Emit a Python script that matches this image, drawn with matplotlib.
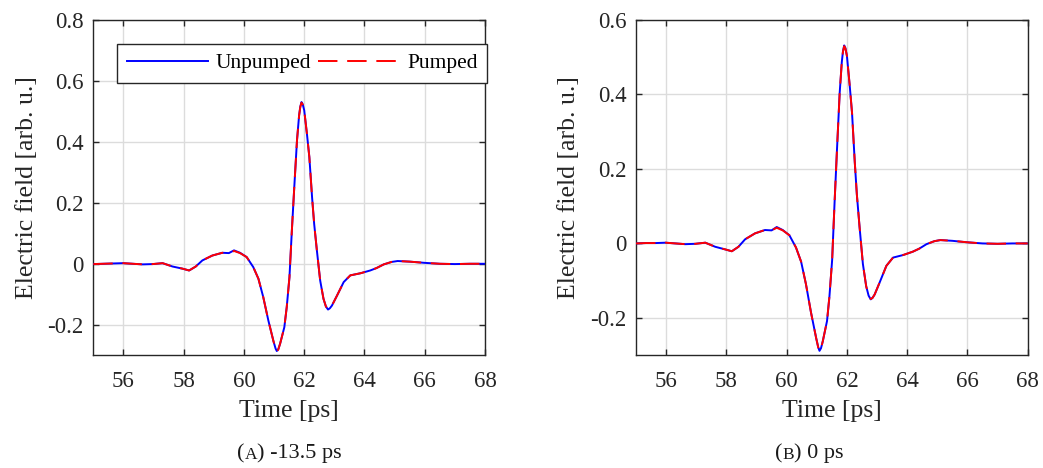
import matplotlib
matplotlib.use("Agg")
import matplotlib.pyplot as plt
from matplotlib.text import Annotation

plt.rcParams['font.family'] = ['Liberation Serif', 'DejaVu Serif']
plt.rcParams['axes.unicode_minus'] = False

# ---- data ----
time_ps = [55.0, 55.33, 55.65, 55.98, 56.31, 56.64, 56.97, 57.3, 57.63, 57.96,
           58.18, 58.4, 58.62, 58.95, 59.28, 59.5, 59.67, 59.87, 60.09, 60.31,
           60.48, 60.64, 60.81, 60.98, 61.05, 61.09, 61.14, 61.2, 61.34, 61.42,
           61.51, 61.59, 61.67, 61.76, 61.83, 61.87, 61.91, 61.95, 62.0, 62.09,
           62.17, 62.26, 62.33, 62.42, 62.53, 62.64, 62.72, 62.79, 62.85, 62.92,
           63.09, 63.31, 63.53, 63.87, 64.19, 64.4, 64.64, 64.9, 65.1, 65.5,
           66.0, 66.5, 67.0, 67.5, 68.0]

unpumped_a = [-0.001, 0.0, 0.001, 0.002, 0.0, -0.002, -0.001, 0.002, -0.009, -0.016,
              -0.022, -0.009, 0.011, 0.027, 0.036, 0.035, 0.044, 0.036, 0.022, -0.011,
              -0.049, -0.109, -0.186, -0.254, -0.278, -0.286, -0.280, -0.262, -0.208, -0.142,
              -0.044, 0.109, 0.251, 0.404, 0.486, 0.515, 0.530, 0.523, 0.503, 0.426,
              0.350, 0.219, 0.131, 0.044, -0.055, -0.115, -0.140, -0.150, -0.146, -0.137,
              -0.104, -0.060, -0.038, -0.031, -0.022, -0.014, -0.002, 0.006, 0.009, 0.007,
              0.003, 0.0, -0.001, 0.0, 0.0]

pumped_a = [-0.001, 0.0, 0.001, 0.002, 0.0, -0.002, -0.001, 0.002, -0.009, -0.016,
            -0.022, -0.009, 0.011, 0.027, 0.036, 0.035, 0.042, 0.035, 0.022, -0.011,
            -0.049, -0.109, -0.186, -0.254, -0.279, -0.288, -0.281, -0.262, -0.208, -0.142,
            -0.044, 0.109, 0.251, 0.404, 0.486, 0.514, 0.528, 0.522, 0.503, 0.426,
            0.350, 0.219, 0.131, 0.044, -0.055, -0.115, -0.140, -0.149, -0.146, -0.137,
            -0.104, -0.060, -0.038, -0.031, -0.022, -0.014, -0.002, 0.006, 0.009, 0.007,
            0.003, 0.0, -0.001, 0.0, 0.0]

unpumped_b = [0.0, 0.001, 0.001, 0.002, 0.0, -0.002, -0.001, 0.002, -0.009, -0.016,
              -0.021, -0.009, 0.011, 0.027, 0.036, 0.035, 0.044, 0.036, 0.022, -0.011,
              -0.049, -0.109, -0.186, -0.254, -0.279, -0.288, -0.281, -0.262, -0.208, -0.142,
              -0.044, 0.109, 0.251, 0.404, 0.486, 0.516, 0.531, 0.524, 0.503, 0.426,
              0.350, 0.219, 0.131, 0.044, -0.055, -0.115, -0.140, -0.150, -0.146, -0.137,
              -0.104, -0.060, -0.038, -0.031, -0.022, -0.014, -0.002, 0.006, 0.009, 0.007,
              0.003, 0.0, -0.001, 0.0, 0.0]

pumped_b = [0.0, 0.001, 0.001, 0.002, 0.0, -0.002, -0.001, 0.002, -0.009, -0.016,
            -0.021, -0.009, 0.011, 0.027, 0.036, 0.035, 0.042, 0.035, 0.022, -0.011,
            -0.049, -0.109, -0.186, -0.254, -0.280, -0.289, -0.282, -0.262, -0.208, -0.142,
            -0.044, 0.109, 0.251, 0.404, 0.486, 0.515, 0.529, 0.523, 0.503, 0.426,
            0.350, 0.219, 0.131, 0.044, -0.055, -0.115, -0.140, -0.149, -0.146, -0.137,
            -0.104, -0.060, -0.038, -0.031, -0.022, -0.014, -0.002, 0.006, 0.009, 0.007,
            0.003, 0.0, -0.001, 0.0, 0.0]

x_ticks = [56, 58, 60, 62, 64, 66, 68]
y_ticks_a = [-0.2, 0, 0.2, 0.4, 0.6, 0.8]
y_ticks_b = [-0.2, 0, 0.2, 0.4, 0.6]
ylim_a = (-0.3, 0.8)
ylim_b = (-0.3, 0.6)
captions = [("A", " -13.5 ps"), ("B", " 0 ps")]

# ---- figure ----
W, H = 1043, 468
fig = plt.figure(figsize=(W / 100, H / 100), dpi=100)

axes_px = [(93.3, 485.0), (636.0, 1027.7)]
top_px, bot_px = 19.7, 355.3

FS_TICK = 16.5
FS_LAB = 18.5
axis_col = '#262626'
txt_col = '#262626'

def fmt(v):
    if abs(v) < 1e-9:
        return '0'
    return f'{v:.1f}'

datasets = [(unpumped_a, pumped_a, ylim_a, y_ticks_a),
            (unpumped_b, pumped_b, ylim_b, y_ticks_b)]

for i, ((x0, x1), (un, pu, yl, yt)) in enumerate(zip(axes_px, datasets)):
    ax = fig.add_axes([x0 / W, 1 - bot_px / H, (x1 - x0) / W, (bot_px - top_px) / H])
    l1, = ax.plot(time_ps, un, color=(0, 0, 1), lw=1.4, label='Unpumped', zorder=3)
    l2, = ax.plot(time_ps, pu, color=(1, 0, 0), lw=1.4, dashes=(10, 5),
                  label='Pumped', zorder=4)
    ax.set_xlim(55, 68)
    ax.set_ylim(*yl)
    ax.set_xticks(x_ticks)
    ax.set_xticklabels([str(t) for t in x_ticks])
    ax.set_yticks(yt)
    ax.set_yticklabels([fmt(v) for v in yt])
    ax.grid(True, color='#dcdcdc', lw=1.0, zorder=0)
    ax.set_axisbelow(True)
    ax.tick_params(direction='in', length=4, width=1.0, colors=axis_col,
                   labelsize=FS_TICK, top=True, right=True)
    ax.tick_params(axis='x', pad=11)
    ax.tick_params(axis='y', pad=7)
    for lab in ax.get_xticklabels() + ax.get_yticklabels():
        lab.set_color(txt_col)
    for s in ax.spines.values():
        s.set_color(axis_col)
        s.set_linewidth(1.0)
    ax.set_xlabel('Time [ps]', fontsize=FS_LAB, color=txt_col, labelpad=6)
    ax.set_ylabel('Electric field [arb. u.]', fontsize=FS_LAB, color=txt_col, labelpad=7)

    if i == 0:
        leg = ax.legend(handles=[l1, l2], ncol=2, loc='lower left',
                        bbox_to_anchor=(0.0605, 0.811, 0.945, 0.1136), mode='expand',
                        fontsize=15.5, handlelength=3.8, handletextpad=0.35,
                        columnspacing=0.5, borderaxespad=0, borderpad=0.45,
                        fancybox=False, framealpha=1, edgecolor='#262626')
        leg.get_frame().set_linewidth(1.0)

# captions with small-caps letter
cap_pos = [(237 / W, 1 - 463 / H), (775 / W, 1 - 463 / H)]
for (cx, cy), (letter, rest) in zip(cap_pos, captions):
    t1 = fig.text(cx, cy, '(', fontsize=16, color='#1a1a1a', va='bottom')
    a2 = fig.add_artist(Annotation(letter, xy=(1, 0), xycoords=t1,
                                   va='bottom', fontsize=12.5, color='#1a1a1a'))
    fig.add_artist(Annotation(')' + rest, xy=(1, 0), xycoords=a2,
                              va='bottom', fontsize=16, color='#1a1a1a'))

fig.savefig('out.png', dpi=100)
